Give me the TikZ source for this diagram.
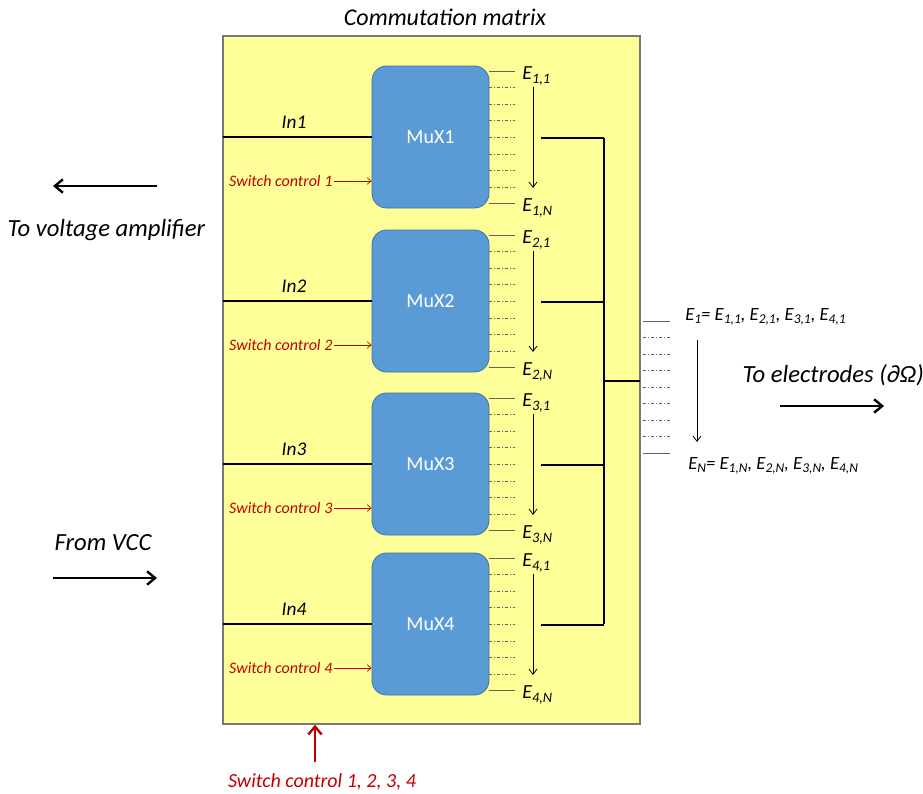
\documentclass[tikz,border=0pt]{standalone}
\usepackage{fontspec}
\setmainfont{Carlito}
\usetikzlibrary{arrows.meta}
\definecolor{matyellow}{RGB}{255,255,153}
\definecolor{matborder}{RGB}{120,120,120}
\definecolor{muxblue}{RGB}{91,155,213}
\definecolor{muxborder}{RGB}{65,113,156}
\definecolor{ctrlred}{RGB}{192,0,0}
\definecolor{pinline}{RGB}{100,100,85}
\newcommand\esub[1]{\raisebox{-0.4ex}{\scalebox{0.72}{#1}}}
\tikzset{
  matrixbox/.style={draw=matborder,line width=1pt,fill=matyellow},
  muxbox/.style={draw=muxborder,line width=0.6pt,fill=muxblue,rounded corners=11pt,
    minimum width=87.75pt,minimum height=106.5pt,inner sep=0pt,text=white,
    font=\fontsize{15}{17}\selectfont},
  bigtxt/.style={font=\fontsize{18.5}{21}\selectfont\itshape},
  midtxt/.style={font=\fontsize{18}{21}\selectfont\itshape},
  intxt/.style={font=\fontsize{14.5}{16}\selectfont\itshape},
  etxt/.style={font=\fontsize{15}{16}\selectfont\itshape,inner sep=0pt},
  eqtxt/.style={font=\fontsize{14}{16}\selectfont\itshape,inner sep=0pt},
  ctrltxt/.style={font=\fontsize{12}{14}\selectfont\itshape,text=ctrlred,inner sep=1pt},
  ctrlarrow/.style={draw=ctrlred,line width=0.5pt,-{Straight Barb[length=3pt,width=5pt]}},
  wire/.style={draw=black,line width=1.2pt},
  pinsolid/.style={draw=pinline,line width=0.6pt},
  pindash/.style={draw=pinline,line width=0.5pt,dash pattern=on 2.6pt off 1.2pt on 0.9pt off 1.2pt},
  downarrow/.style={draw=black,line width=0.6pt,-{Straight Barb[length=4pt,width=6pt]}},
  fatarrow/.style={draw=black,line width=1.8pt,-{Straight Barb[length=6pt,width=10pt]}},
}
\begin{document}
\begin{tikzpicture}[x=0.75pt,y=-0.75pt]
\useasboundingbox (0,0) rectangle (923,793);
% matrix box
\node[matrixbox,minimum width=312.75pt,minimum height=516pt,inner sep=0pt] (mat) at (431.5,380) {};
\node[midtxt] (title) at (445,17) {Commutation matrix};
% bus
\coordinate (bustop) at (604,138);
\coordinate (busbot) at (604,624);
\coordinate (busmid) at (604,381);
\coordinate (busout) at (640,381);
\draw[wire] (bustop) -- (busbot);
\draw[wire] (busmid) -- (busout);
% multiplexers
\foreach \k/\T in {1/66,2/230,3/393,4/553}{
  \node[muxbox] (mux\k) at (430.5,\T+71) {MuX\k};
  \coordinate (inL\k) at (223,\T+71);
  \draw[wire] (inL\k) -- (mux\k.west |- inL\k);
  \node[intxt] (inlab\k) at (294,\T+56) {In\k};
  \node[ctrltxt,anchor=east] (ctrl\k) at (334,\T+115) {Switch control \k};
  \draw[ctrlarrow] (ctrl\k.east) -- (mux\k.west |- ctrl\k.east);
  \foreach \i in {0,...,8}{
    \coordinate (pa\k\i) at (489,\T+5+\i*16.6);
    \coordinate (pb\k\i) at (515,\T+5+\i*16.6);
  }
  \draw[pinsolid] (pa\k0) -- (pb\k0);
  \draw[pinsolid] (pa\k8) -- (pb\k8);
  \foreach \i in {1,...,7}{\draw[pindash] (pa\k\i) -- (pb\k\i);}
  \coordinate (da\k) at (533,\T+21);
  \coordinate (db\k) at (533,\T+122);
  \draw[downarrow] (da\k) -- (db\k);
  \node[etxt,anchor=west] (ef\k) at (522,\T+10) {E\esub{\k,1}};
  \node[etxt,anchor=west] (el\k) at (522,\T+142) {E\esub{\k,N}};
  \coordinate (out\k) at (541,\T+72);
  \draw[wire] (out\k) -- (bustop |- out\k);
}
% outside pins
\foreach \i in {0,...,8}{
  \coordinate (qa\i) at (643,321+\i*16.5);
  \coordinate (qb\i) at (670,321+\i*16.5);
}
\draw[pinsolid] (qa0) -- (qb0);
\draw[pinsolid] (qa8) -- (qb8);
\foreach \i in {1,...,7}{\draw[pindash] (qa\i) -- (qb\i);}
\coordinate (ra) at (697,340);
\coordinate (rb) at (697,442);
\draw[downarrow] (ra) -- (rb);
\node[eqtxt,anchor=west] (eq1) at (685,317) {E\esub{1}= E\esub{1,1}, E\esub{2,1}, E\esub{3,1}, E\esub{4,1}};
\node[eqtxt,anchor=west] (eqN) at (688,466) {E\esub{N}= E\esub{1,N}, E\esub{2,N}, E\esub{3,N}, E\esub{4,N}};
% external labels and arrows
\node[bigtxt,anchor=west] (elec) at (738,375) {To electrodes (∂Ω)};
\coordinate (ea) at (780,406);
\coordinate (eb) at (884,406);
\draw[fatarrow] (ea) -- (eb);
\node[bigtxt,anchor=west] (volt) at (3,230) {To voltage amplifier};
\coordinate (va) at (157,186);
\coordinate (vb) at (53,186);
\draw[fatarrow] (va) -- (vb);
\node[bigtxt,anchor=west] (vcc) at (50,543) {From VCC};
\coordinate (ca) at (53,578);
\coordinate (cb) at (157,578);
\draw[fatarrow] (ca) -- (cb);
% bottom control
\coordinate (sa) at (315,762);
\draw[draw=ctrlred,line width=1.8pt,-{Straight Barb[length=6pt,width=10pt]}] (sa) -- (mat.south -| sa);
\node[font=\fontsize{15}{17}\selectfont\itshape,text=ctrlred] (allctrl) at (322,782) {Switch control 1, 2, 3, 4};
\end{tikzpicture}
\end{document}
